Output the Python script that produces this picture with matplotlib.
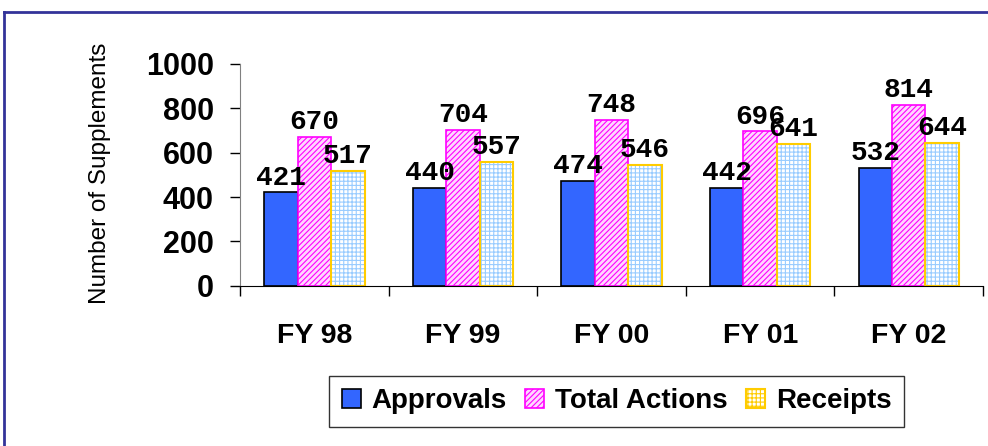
import matplotlib
matplotlib.use("Agg")
import matplotlib.pyplot as plt
import numpy as np
from matplotlib.lines import Line2D
from matplotlib.patches import Patch

categories = ["FY 98", "FY 99", "FY 00", "FY 01", "FY 02"]
approvals = [421, 440, 474, 442, 532]
total_actions = [670, 704, 748, 696, 814]
receipts = [517, 557, 546, 641, 644]
series_names = ["Approvals", "Total Actions", "Receipts"]
y_ticks = [0, 200, 400, 600, 800, 1000]

plt.rcParams['font.family'] = ['Liberation Sans', 'DejaVu Sans']
plt.rcParams['hatch.linewidth'] = 0.8

fig = plt.figure(figsize=(9.88, 4.46), dpi=100)
ax = fig.add_axes([0.243, 0.359, 0.752, 0.498])

x = np.arange(len(categories))
w = 0.225

ax.bar(x - w, approvals, w, color='#3366ff', edgecolor='black', linewidth=1.2, zorder=2)
ax.bar(x, total_actions, w, color='#ffd6ff', edgecolor='#ff00ff', hatch='//////', linewidth=1.2, zorder=2)
ax.bar(x + w, receipts, w, color='white', edgecolor='#99ccff', hatch='++++', linewidth=0, zorder=2)
ax.bar(x + w, receipts, w, color='none', edgecolor='#ffcc00', linewidth=1.5, zorder=2)

mono = dict(family=['Liberation Mono', 'DejaVu Sans Mono'], fontweight='bold', fontsize=20)
for xs, vals in [(x - w, approvals), (x, total_actions), (x + w, receipts)]:
    for xi, v in zip(xs, vals):
        ax.text(xi, v + 8, str(v), ha='center', va='bottom', zorder=3, **mono)

ax.set_xlim(-0.5, len(categories) - 0.5)
ax.set_ylim(0, 1000)
ax.set_yticks(y_ticks)
ax.set_yticklabels([str(t) for t in y_ticks], fontsize=22, fontweight='bold')
ax.set_xticks(x)
ax.set_xticklabels(categories, fontsize=20.5, fontweight='bold')
ax.set_xticks(np.arange(len(categories) + 1) - 0.5, minor=True)
ax.tick_params(axis='x', which='major', length=0, pad=27)
ax.tick_params(axis='x', which='minor', length=7, width=1, direction='out')
ax.tick_params(axis='y', length=7, width=1, direction='out', pad=12)
ax.spines['top'].set_visible(False)
ax.spines['right'].set_visible(False)
ax.spines['left'].set_color('#808080')
ax.spines['left'].set_bounds(0, 1000)
ax.set_ylabel("Number of Supplements", fontsize=17.5)
ax.yaxis.set_label_coords(-0.174, 0.507)

handles = [
    Patch(facecolor='#3366ff', edgecolor='black', linewidth=1.2),
    Patch(facecolor='#ffd6ff', edgecolor='#ff00ff', hatch='//////', linewidth=1.2),
    Patch(facecolor='white', edgecolor='#ffcc00', hatch='++++', linewidth=1.5),
]
leg = fig.legend(handles, series_names, loc='center', bbox_to_anchor=(0.624, 0.0998),
                 ncol=3, prop=dict(size=20, weight='bold'), frameon=True, fancybox=False,
                 edgecolor='black', handlelength=0.68, handleheight=0.68, handletextpad=0.4,
                 columnspacing=0.65, borderpad=0.45)
leg.get_frame().set_linewidth(1.0)

fig.add_artist(Line2D([0.004, 1.0], [1 - 12/446, 1 - 12/446], color='#333399', linewidth=2, transform=fig.transFigure))
fig.add_artist(Line2D([0.004, 0.004], [0, 1 - 12/446], color='#333399', linewidth=2, transform=fig.transFigure))

fig.savefig("out.png", dpi=100)
